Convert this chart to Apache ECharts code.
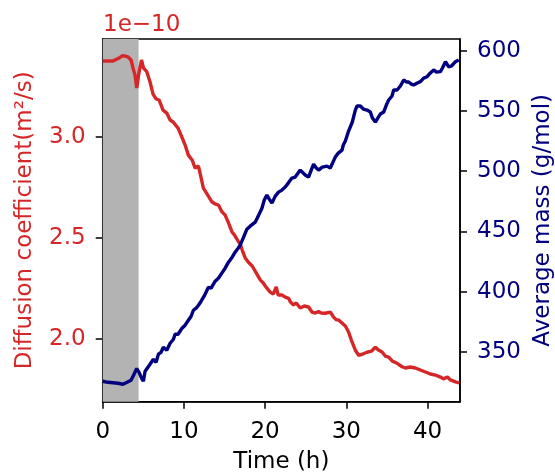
<!DOCTYPE html>
<html>
<head>
<meta charset="utf-8">
<script src="https://cdn.jsdelivr.net/npm/echarts@6/dist/echarts.min.js"></script>
<style>
  html, body { margin: 0; padding: 0; background: #fff; }
  #chart { width: 555px; height: 473px; }
</style>
</head>
<body>
<div id="chart"></div>
<script>
// diffusion coefficient, in units of 1e-10 m^2/s
const timeRed = [0, 0.65, 1.27, 1.89, 2.5, 3.12, 3.49, 3.74, 3.98, 4.19, 4.48, 4.78, 5.03, 5.43, 5.83, 6.2, 6.57, 6.94, 7.43, 7.89, 8.3, 8.67, 9.28, 9.74, 10.15, 10.55, 11.01, 11.38, 11.79, 12.12, 12.4, 12.86, 13.44, 13.85, 14.25, 14.67, 15.08, 15.45, 15.91, 16.31, 16.72, 16.93, 17.18, 17.55, 17.92, 18.41, 18.99, 19.4, 19.77, 20.22, 20.63, 21.0, 21.37, 21.61, 22.07, 22.48, 22.89, 23.1, 23.5, 23.83, 24.33, 24.82, 25.35, 25.77, 26.18, 26.58, 26.92, 27.41, 28.03, 28.43, 28.77, 29.05, 29.47, 29.88, 30.28, 30.62, 31.11, 31.52, 31.97, 32.55, 33.08, 33.58, 33.95, 34.4, 34.81, 35.22, 35.67, 36.25, 36.87, 37.28, 37.89, 38.51, 39.12, 39.74, 40.35, 40.97, 41.59, 41.96, 42.45, 42.82, 43.44, 43.93];
const diffusion = [3.375, 3.375, 3.375, 3.387, 3.402, 3.395, 3.38, 3.34, 3.305, 3.241, 3.32, 3.38, 3.34, 3.322, 3.271, 3.211, 3.187, 3.182, 3.132, 3.117, 3.083, 3.073, 3.043, 2.999, 2.959, 2.909, 2.885, 2.845, 2.855, 2.796, 2.746, 2.716, 2.678, 2.667, 2.662, 2.629, 2.612, 2.577, 2.53, 2.508, 2.48, 2.469, 2.439, 2.4, 2.38, 2.36, 2.32, 2.291, 2.276, 2.25, 2.231, 2.221, 2.256, 2.216, 2.216, 2.206, 2.2, 2.183, 2.167, 2.177, 2.152, 2.162, 2.157, 2.132, 2.127, 2.134, 2.127, 2.126, 2.132, 2.107, 2.093, 2.093, 2.078, 2.063, 2.033, 1.993, 1.943, 1.918, 1.923, 1.933, 1.938, 1.958, 1.944, 1.934, 1.914, 1.909, 1.889, 1.878, 1.861, 1.855, 1.86, 1.855, 1.845, 1.835, 1.825, 1.82, 1.81, 1.801, 1.81, 1.796, 1.786, 1.781];

// average mass, g/mol
const timeBlue = [0, 0.65, 1.27, 1.89, 2.5, 3.0, 3.49, 3.86, 4.19, 4.48, 4.81, 5.01, 5.22, 5.46, 5.83, 6.24, 6.57, 6.86, 7.19, 7.47, 7.89, 8.3, 8.71, 8.91, 9.28, 9.74, 10.15, 10.55, 10.89, 11.17, 11.5, 11.79, 12.12, 12.49, 13.02, 13.35, 13.85, 14.25, 14.67, 15.08, 15.49, 15.94, 16.31, 16.68, 16.93, 17.3, 17.76, 18.16, 18.78, 19.15, 19.61, 19.89, 20.22, 20.51, 20.84, 21.25, 21.65, 22.07, 22.48, 22.85, 23.3, 23.71, 24.33, 24.94, 25.35, 25.68, 25.97, 26.3, 26.58, 27.04, 27.62, 28.03, 28.27, 28.64, 29.01, 29.47, 29.63, 29.88, 30.28, 30.49, 30.74, 31.11, 31.32, 31.73, 32.1, 32.55, 32.96, 33.21, 33.58, 33.95, 34.19, 34.6, 34.93, 35.22, 35.63, 35.83, 36.25, 36.66, 37.07, 37.4, 37.68, 38.01, 38.3, 38.75, 39.12, 39.53, 39.95, 40.35, 40.76, 41.1, 41.59, 41.84, 42.21, 42.61, 42.95, 43.44, 43.85];
const mass = [325.7, 324.8, 324.4, 324.0, 323.2, 324.8, 326.5, 331.5, 336.2, 333.1, 327.9, 325.7, 334.0, 334.8, 339.8, 343.9, 341.4, 348.1, 349.7, 353.9, 351.4, 357.2, 360.5, 364.7, 364.7, 369.4, 372.2, 376.3, 379.6, 384.6, 386.3, 388.8, 392.1, 396.3, 403.7, 402.9, 408.7, 411.2, 415.4, 419.5, 424.5, 428.6, 432.8, 436.1, 438.6, 444.4, 451.9, 454.4, 457.7, 462.7, 469.3, 476.0, 480.1, 476.8, 473.5, 479.3, 482.6, 484.3, 486.8, 490.1, 494.3, 495.1, 500.9, 496.8, 495.1, 500.9, 505.9, 502.6, 500.9, 503.4, 504.2, 502.6, 502.6, 511.7, 515.0, 517.5, 521.7, 525.0, 533.3, 532.5, 540.8, 550.7, 554.1, 554.1, 551.6, 550.7, 549.1, 544.1, 540.8, 544.9, 547.4, 549.1, 554.9, 559.1, 562.4, 567.4, 567.4, 570.7, 575.7, 574.0, 574.0, 572.3, 571.5, 573.2, 574.3, 577.3, 578.4, 581.5, 584.0, 582.3, 582.6, 585.6, 590.9, 586.5, 587.3, 590.9, 592.3];

const timeTicks = [0, 10, 20, 30, 40];
const diffusionTicks = [2.0, 2.5, 3.0];
const massTicks = [350, 400, 450, 500, 550, 600];
const shadeEnd = 4.42; // grey band, hours

const RED = '#d62728';
const NAVY = '#000080';
const FONT = 'DejaVu Sans';
const FS = 23;

const chart = echarts.init(document.getElementById('chart'));

const tickStyle = { show: true, length: 7, lineStyle: { color: '#000', width: 1.5 } };
const lineAxis = { show: true, lineStyle: { color: '#000', width: 1.5 } };

const option = {
  animation: false,
  backgroundColor: '#fff',
  textStyle: { fontFamily: FONT },
  grid: {
    left: 102.7, right: 95, top: 39, bottom: 71.3,
    outerBoundsMode: 'none', containLabel: false,
    show: true, borderColor: '#000', borderWidth: 1.5, backgroundColor: 'transparent'
  },
  graphic: [{
    type: 'text', left: 103, top: 14,
    style: { text: '1e\u221210', fill: RED, font: FS + 'px "DejaVu Sans"' }
  }],
  xAxis: {
    type: 'value', min: 0, max: 44,
    axisLine: lineAxis,
    axisTick: { ...tickStyle, customValues: timeTicks },
    axisLabel: { customValues: timeTicks, fontSize: FS, color: '#000', margin: 19, fontFamily: FONT },
    splitLine: { show: false },
    name: 'Time (h)', nameLocation: 'middle', nameGap: 49,
    nameTextStyle: { fontSize: FS, color: '#000', fontFamily: FONT }
  },
  yAxis: [{
    type: 'value', position: 'left', min: 1.688, max: 3.484,
    axisLine: lineAxis,
    axisTick: { ...tickStyle, customValues: diffusionTicks },
    axisLabel: {
      customValues: diffusionTicks, fontSize: FS, color: RED, margin: 17, fontFamily: FONT,
      formatter: v => v.toFixed(1)
    },
    splitLine: { show: false },
    name: 'Diffusion coefficient(m\u00b2/s)', nameLocation: 'middle', nameGap: 66,
    nameTextStyle: { fontSize: FS, color: RED, fontFamily: FONT }
  }, {
    type: 'value', position: 'right', min: 308.7, max: 609.7,
    axisLine: lineAxis,
    axisTick: { ...tickStyle, customValues: massTicks },
    axisLabel: { customValues: massTicks, fontSize: FS, color: NAVY, margin: 17, fontFamily: FONT },
    splitLine: { show: false },
    name: 'Average mass (g/mol)', nameLocation: 'middle', nameGap: 71,
    nameTextStyle: { fontSize: FS, color: NAVY, fontFamily: FONT }
  }],
  series: [{
    name: 'diffusion', type: 'line', yAxisIndex: 0, z: 2,
    showSymbol: false,
    lineStyle: { color: RED, width: 3.4 },
    data: timeRed.map((t, i) => [t, diffusion[i]]),
    markArea: {
      silent: true,
      itemStyle: { color: '#b3b3b3' },
      data: [[{ xAxis: 0 }, { xAxis: shadeEnd }]]
    }
  }, {
    name: 'mass', type: 'line', yAxisIndex: 1, z: 3,
    showSymbol: false,
    lineStyle: { color: NAVY, width: 3.4 },
    data: timeBlue.map((t, i) => [t, mass[i]])
  }]
};

chart.setOption(option);
</script>
</body>
</html>
